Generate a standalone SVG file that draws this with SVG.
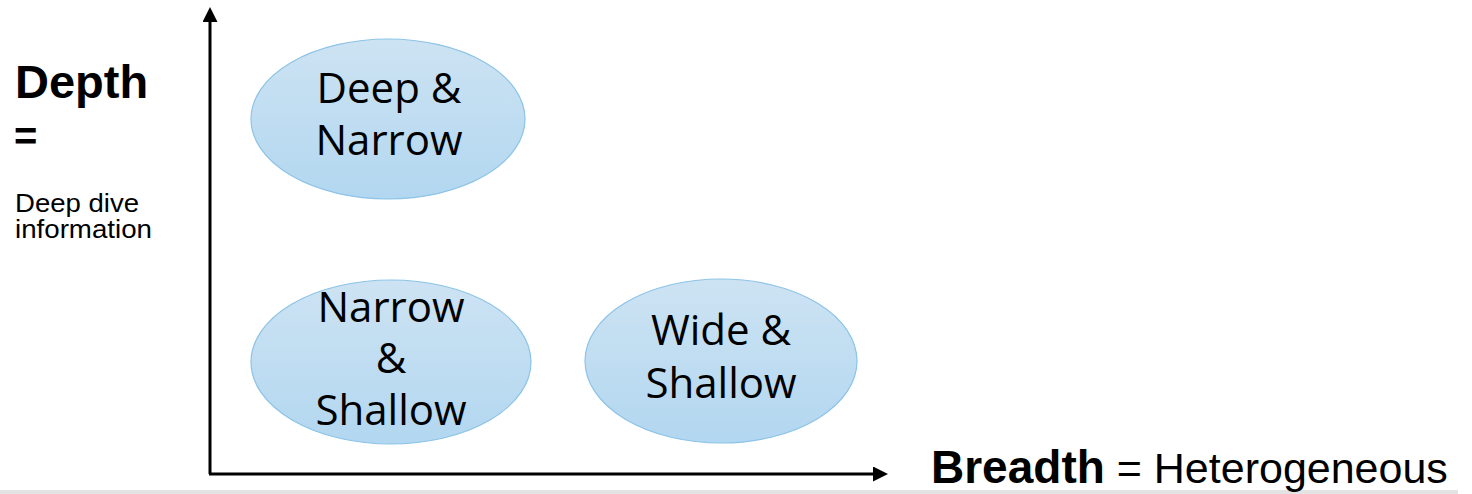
<svg xmlns="http://www.w3.org/2000/svg" width="1472" height="494" viewBox="0 0 1472 494">
<defs>
<linearGradient id="fill" x1="0" y1="0" x2="0" y2="1">
<stop offset="0" stop-color="#cde3f3"/>
<stop offset="1" stop-color="#b2d7f0"/>
</linearGradient>
<marker id="arr" markerWidth="5" markerHeight="5" refX="0" refY="2.5" orient="auto" markerUnits="strokeWidth">
<path d="M0,0 L5,2.5 L0,5 Z" fill="#000"/>
</marker>
</defs>
<style>
.node ellipse{fill:url(#fill);stroke:#8cc3e6;stroke-width:1.2}
.lbl{font-family:"Open Sans","Noto Sans",sans-serif;font-size:42px;fill:#000;text-anchor:middle}
.ax{stroke:#000;stroke-width:3;fill:none}
.side{font-family:"Liberation Sans",Arial,sans-serif;fill:#000}
</style>
<rect x="0" y="490" width="1458" height="4" fill="#e3e3e3"/>
<g id="connectors">
<path class="ax" d="M210,474 L210,22" marker-end="url(#arr)"/>
<path class="ax" d="M209,474 L873,474" marker-end="url(#arr)"/>
</g>
<g id="deep-narrow" class="node">
<ellipse cx="388" cy="119" rx="137" ry="80"/>
<text class="lbl" x="389" y="103">Deep &amp;</text>
<text class="lbl" x="389" y="155">Narrow</text>
</g>
<g id="narrow-shallow" class="node">
<ellipse cx="391" cy="362" rx="140" ry="82"/>
<text class="lbl" x="391" y="322">Narrow</text>
<text class="lbl" x="391" y="373">&amp;</text>
<text class="lbl" x="391" y="425">Shallow</text>
</g>
<g id="wide-shallow" class="node">
<ellipse cx="721" cy="361" rx="136" ry="82"/>
<text class="lbl" x="721" y="345">Wide &amp;</text>
<text class="lbl" x="721" y="398">Shallow</text>
</g>
<g id="depth-label" class="side">
<text x="15" y="98" font-size="47" font-weight="bold">Depth</text>
<text x="14" y="150" font-size="40" font-weight="bold">=</text>
<text x="15" y="212" font-size="26" textLength="124" lengthAdjust="spacingAndGlyphs">Deep dive</text>
<text x="15" y="238" font-size="26" textLength="137" lengthAdjust="spacingAndGlyphs">information</text>
</g>
<g id="breadth-label" class="side">
<text x="931" y="483" font-size="46"><tspan font-weight="bold">Breadth</tspan><tspan font-size="43"> = Heterogeneous</tspan></text>
</g>
</svg>
